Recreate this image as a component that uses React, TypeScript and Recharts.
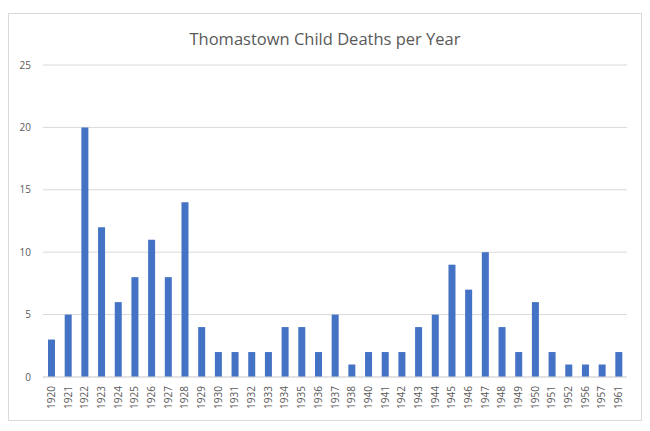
import React from "react";
import { BarChart, Bar, XAxis, YAxis, CartesianGrid } from "recharts";

// years shown on the x axis (1939 and 1953-55, 1958-60 have no entry)
const years = [
  "1920", "1921", "1922", "1923", "1924", "1925", "1926", "1927", "1928", "1929",
  "1930", "1931", "1932", "1933", "1934", "1935", "1936", "1937", "1938", "1940",
  "1941", "1942", "1943", "1944", "1945", "1946", "1947", "1948", "1949", "1950",
  "1951", "1952", "1956", "1957", "1961",
];

const deaths = [
  3, 5, 20, 12, 6, 8, 11, 8, 14, 4,
  2, 2, 2, 2, 4, 4, 2, 5, 1, 2,
  2, 2, 4, 5, 9, 7, 10, 4, 2, 6,
  2, 1, 1, 1, 2,
];

const yTicks = [0, 5, 10, 15, 20, 25];

const data = years.map((year, i) => ({ year, deaths: deaths[i] }));

const FONT = "'Open Sans', 'Noto Sans', sans-serif";
const TEXT = "#595959";
const GRID = "#d9d9d9";

// rotated year label under each bar
const YearTick = (props: any) => {
  const { x, y, payload } = props;
  return (
    <text
      x={x}
      y={y + 9}
      transform={`rotate(-90, ${x}, ${y + 9})`}
      textAnchor="end"
      dy="0.35em"
      fontSize={10}
      fontFamily={FONT}
      fill={TEXT}
    >
      {payload.value}
    </text>
  );
};

export default function App() {
  return (
    <div style={{ position: "relative", width: 634, height: 423 }}>
      {/* chart frame */}
      <div
        style={{
          position: "absolute",
          left: 0,
          top: 5,
          width: 632,
          height: 406,
          border: `1px solid ${GRID}`,
        }}
      />
      <div
        style={{
          position: "absolute",
          left: 0,
          top: 19,
          width: 634,
          textAlign: "center",
          fontFamily: FONT,
          fontSize: 16.5,
          color: TEXT,
        }}
      >
        Thomastown Child Deaths per Year
      </div>
      <div style={{ position: "absolute", left: 0, top: 0 }}>
        <BarChart
          width={634}
          height={423}
          data={data}
          margin={{ top: 57, right: 15, bottom: 0, left: 0 }}
          barCategoryGap="30%"
        >
          <CartesianGrid vertical={false} stroke={GRID} />
          <XAxis
            dataKey="year"
            interval={0}
            height={54}
            tickLine={false}
            tickSize={0}
            tickMargin={0}
            axisLine={{ stroke: GRID }}
            tick={<YearTick />}
          />
          <YAxis
            width={35}
            domain={[0, 25]}
            ticks={yTicks}
            axisLine={false}
            tickLine={false}
            tickMargin={6}
            tick={{ fontSize: 10, fontFamily: FONT, fill: TEXT }}
          />
          <Bar dataKey="deaths" fill="#4472c4" isAnimationActive={false} />
        </BarChart>
      </div>
    </div>
  );
}
